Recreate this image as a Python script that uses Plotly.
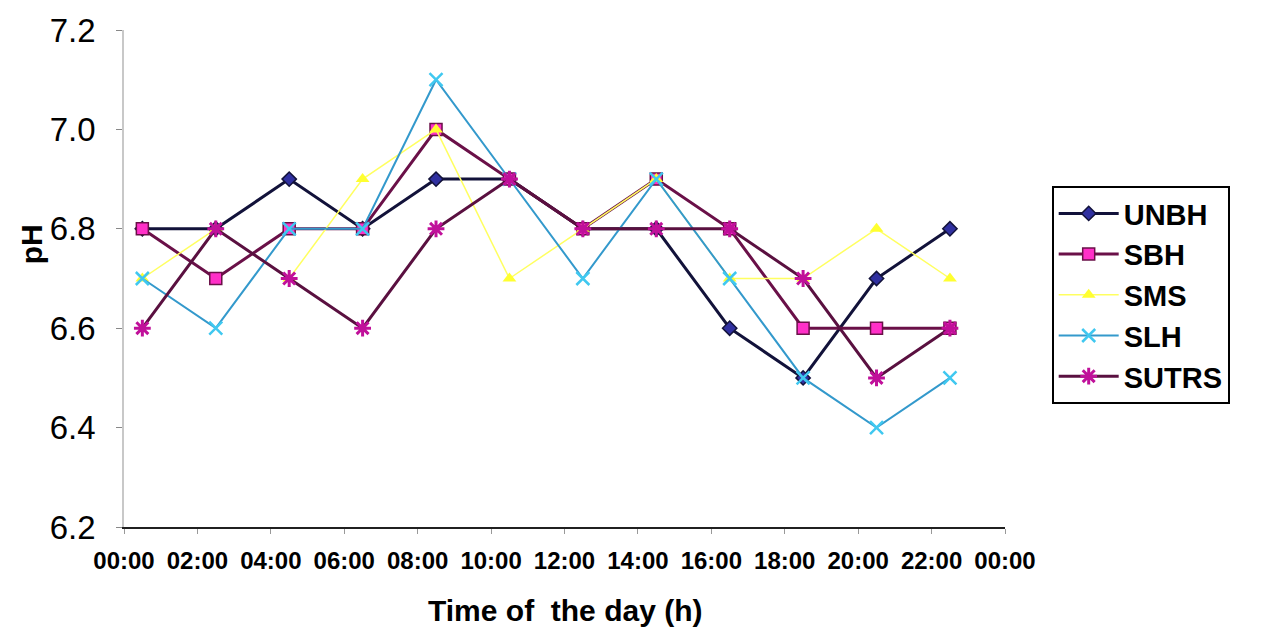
import plotly.graph_objects as go

hours = [0.5, 2.5, 4.5, 6.5, 8.5, 10.5, 12.5, 14.5, 16.5, 18.5, 20.5, 22.5]
UNBH = [6.8, 6.8, 6.9, 6.8, 6.9, 6.9, 6.8, 6.8, 6.6, 6.5, 6.7, 6.8]
SBH = [6.8, 6.7, 6.8, 6.8, 7.0, 6.9, 6.8, 6.9, 6.8, 6.6, 6.6, 6.6]
SMS = [6.7, 6.8, 6.7, 6.9, 7.0, 6.7, 6.8, 6.9, 6.7, 6.7, 6.8, 6.7]
SLH = [6.7, 6.6, 6.8, 6.8, 7.1, 6.9, 6.7, 6.9, 6.7, 6.5, 6.4, 6.5]
SUTRS = [6.6, 6.8, 6.7, 6.6, 6.8, 6.9, 6.8, 6.8, 6.8, 6.7, 6.5, 6.6]

tick_hours = [0, 2, 4, 6, 8, 10, 12, 14, 16, 18, 20, 22, 24]
tick_labels = ["00:00", "02:00", "04:00", "06:00", "08:00", "10:00", "12:00",
               "14:00", "16:00", "18:00", "20:00", "22:00", "00:00"]
y_ticks = [6.2, 6.4, 6.6, 6.8, 7.0, 7.2]
y_labels = ["6.2", "6.4", "6.6", "6.8", "7.0", "7.2"]

FONT = "Liberation Sans, Arial, sans-serif"

series = [
    ("UNBH", UNBH, dict(color="#12123a", width=3),
     dict(symbol="diamond", size=11, color="#3030a0", line=dict(color="#12123a", width=1.5))),
    ("SBH", SBH, dict(color="#6a1048", width=3),
     dict(symbol="square", size=12, color="#ff30c8", line=dict(color="#6a1048", width=1.5))),
    ("SMS", SMS, dict(color="#ffff60", width=1.5),
     dict(symbol="triangle-up", size=12, color="#ffff30", line=dict(color="#ffff30", width=0))),
    ("SLH", SLH, dict(color="#3399cc", width=2),
     dict(symbol="x-thin-open", size=13, color="#40c8f0", line=dict(color="#40c8f0", width=2.5))),
    ("SUTRS", SUTRS, dict(color="#5a1040", width=3),
     dict(symbol="asterisk-open", size=14, color="#c0109a", line=dict(color="#c0109a", width=3))),
]

fig = go.Figure()
for name, vals, line, marker in series:
    fig.add_trace(go.Scatter(x=hours, y=vals, name=name, mode="lines+markers",
                             line=line, marker=marker))

fig.update_layout(
    width=1264, height=635,
    margin=dict(l=124, r=259, t=27, b=108),
    paper_bgcolor="white", plot_bgcolor="white",
    font=dict(family=FONT, color="black"),
    showlegend=True,
    legend=dict(
        x=1.053, y=0.686, xanchor="left", yanchor="top",
        bordercolor="black", borderwidth=2, bgcolor="white",
        font=dict(family=FONT, size=29, color="black", weight="bold"),
        itemwidth=60, tracegroupgap=0,
    ),
    xaxis=dict(
        range=[0, 24], tickmode="array", tickvals=tick_hours, ticktext=tick_labels,
        showgrid=False, zeroline=False,
        showline=True, linecolor="#202020", linewidth=2,
        ticks="outside", ticklen=5, tickcolor="#999999", tickwidth=1,
        tickfont=dict(family=FONT, size=24, color="black", weight="bold"),
        ticklabelstandoff=6,
    ),
    yaxis=dict(
        range=[6.2, 7.2], tickmode="array", tickvals=y_ticks, ticktext=y_labels,
        showgrid=False, zeroline=False,
        showline=True, linecolor="#c8c8c8", linewidth=1.5,
        ticks="outside", ticklen=6, tickcolor="#888888", tickwidth=1,
        tickfont=dict(family=FONT, size=33, color="black"),
        ticklabelstandoff=14,
    ),
    annotations=[
        dict(text="<b>Time of  the day (h)</b>", xref="paper", yref="paper",
             x=0.5, y=-0.168, xanchor="center", yanchor="middle", showarrow=False,
             font=dict(family=FONT, size=30, color="black")),
        dict(text="<b>pH</b>", xref="paper", yref="paper", textangle=-90,
             x=-0.105, y=0.57, xanchor="center", yanchor="middle", showarrow=False,
             font=dict(family=FONT, size=30, color="black")),
    ],
)

fig.write_html("out.html")
